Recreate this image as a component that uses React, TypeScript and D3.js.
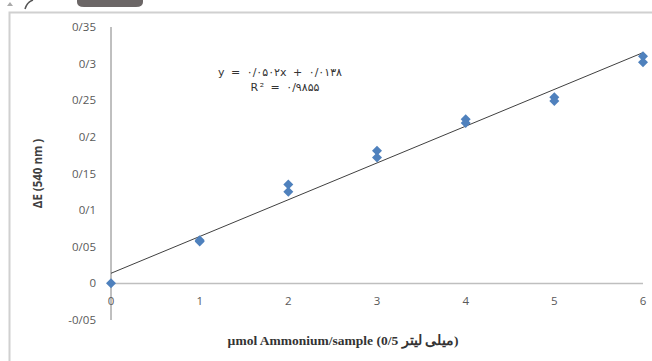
import React from 'react';
import * as d3 from 'd3';

// amount of ammonium per sample (two replicate readings each)
const xValues = [0, 1, 1, 2, 2, 3, 3, 4, 4, 5, 5, 6, 6];
const yValues = [0, 0.057, 0.059, 0.135, 0.125, 0.181, 0.172, 0.224, 0.219, 0.254, 0.249, 0.31, 0.302];

const yTicks = [-0.05, 0, 0.05, 0.1, 0.15, 0.2, 0.25, 0.3, 0.35];
const yTickLabels = ['-0/05', '0', '0/05', '0/1', '0/15', '0/2', '0/25', '0/3', '0/35'];
const xTicks = [0, 1, 2, 3, 4, 5, 6];

const slope = 0.0502;
const intercept = 0.0138;
const equationText = 'y = ۰/۰۵۰۲x + ۰/۰۱۳۸';
const r2Text = 'R² = ۰/۹۸۵۵';

const width = 652;
const height = 361;

const App = () => {
   const x = d3.scaleLinear().domain([0, 6]).range([111, 643]);
   const y = d3.scaleLinear().domain([-0.05, 0.35]).range([320, 27]);

   // square turned 45deg gives the fatter Excel-style diamond
   const diamond = d3.symbol().type(d3.symbolSquare).size(50)();
   const trend = d3.line<number>()
      .x(d => x(d))
      .y(d => y(slope * d + intercept));

   return (
      <div style={{ position: 'absolute', left: 0, top: 0 }}>
         <svg width={width} height={height} style={{ display: 'block', background: '#fff' }}>
            {/* bits of page chrome cut off at the top */}
            <path d="M77,0 L143,0 L143,2 Q143,7 136,7 L84,7 Q77,7 77,2 Z" fill="#6b6666" />
            <path d="M25,9 Q27,2 33,0" fill="none" stroke="#555" strokeWidth={1.5} />
            <path d="M7,6 L10,2 L13,6 Z" fill="#aaa" />

            {/* chart frame */}
            <rect x={9.5} y={12.5} width={700} height={400} fill="none" stroke="#d0d0d0" strokeWidth={2} />

            {/* axes */}
            <line x1={x(0)} x2={x(6)} y1={y(0)} y2={y(0)} stroke="#bfbfbf" strokeWidth={1.5} />
            <line x1={x(0)} x2={x(0)} y1={y(0.35)} y2={y(-0.05)} stroke="#808080" strokeWidth={1} />

            <g fontFamily="'Open Sans', 'DejaVu Sans', sans-serif" fontSize={11.5} fill="#595959">
               {yTicks.map((t, i) => (
                  <text key={t} x={96} y={y(t)} dy="0.35em" textAnchor="end">{yTickLabels[i]}</text>
               ))}
               {xTicks.map(t => (
                  <text key={t} x={x(t)} y={y(0) + 22} textAnchor="middle">{t}</text>
               ))}
            </g>

            {/* trend line */}
            <path d={trend([0, 6]) || ''} fill="none" stroke="#404040" strokeWidth={1} />

            {/* points */}
            {xValues.map((v, i) => (
               <path
                  key={i}
                  d={diamond || ''}
                  transform={`translate(${x(v)},${y(yValues[i])}) rotate(45)`}
                  fill="#4f81bd"
               />
            ))}

            {/* equation */}
            <g fontFamily="'DejaVu Sans', sans-serif" fontSize={11} fill="#333" letterSpacing={1.5}>
               <text x={280} y={76} textAnchor="middle">{equationText}</text>
               <text x={285} y={91} textAnchor="middle">{r2Text}</text>
            </g>

            {/* axis titles */}
            <text
               transform={`translate(42,${y(0.15)}) rotate(-90)`}
               textAnchor="middle"
               fontFamily="'Open Sans', 'DejaVu Sans', sans-serif"
               fontSize={11.5}
               fontWeight="bold"
               fill="#404040"
            >
               ΔE (540 nm )
            </text>
            <text
               x={343}
               y={345}
               textAnchor="middle"
               fontFamily="'Liberation Serif', 'DejaVu Serif', serif"
               fontSize={13.5}
               fontWeight="bold"
               fill="#333"
            >
               µmol Ammonium/sample (0/5 میلی لیتر)
            </text>
         </svg>
      </div>
   );
};

export default App;
